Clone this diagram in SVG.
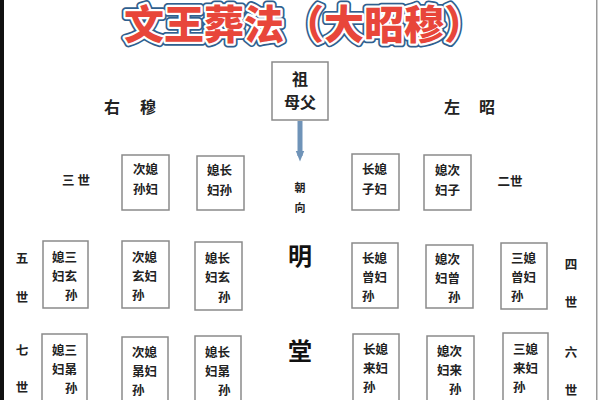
<svg xmlns="http://www.w3.org/2000/svg" width="600" height="400" viewBox="0 0 600 400">
<defs>
<style>
.t{font-family:"Noto Sans CJK SC","Noto Sans",sans-serif;fill:#222;}
.b{fill:#fff;stroke:#8a8a8a;stroke-width:1.5;}
.bx{font-family:"Noto Sans CJK SC",sans-serif;font-size:12.5px;font-weight:bold;fill:#222;}
.lab{font-family:"Noto Sans CJK SC",sans-serif;font-size:12.5px;font-weight:bold;fill:#222;text-anchor:middle;}
.big{font-family:"Noto Sans CJK SC",sans-serif;font-size:24px;font-weight:bold;fill:#111;text-anchor:middle;}
.side{font-family:"Noto Sans CJK SC",sans-serif;font-size:16px;font-weight:bold;fill:#222;text-anchor:middle;}
.title{font-family:"Noto Sans CJK SC",sans-serif;font-size:40px;font-weight:900;text-anchor:middle;}
</style>
<marker id="ah" viewBox="0 0 10 10" refX="5" refY="5" markerWidth="2.2" markerHeight="2.2" orient="auto">
<path d="M0,1 L10,5 L0,9 z" fill="#6f93b8"/>
</marker>
</defs>
<rect x="0" y="0" width="600" height="400" fill="#fff"/>
<rect x="0" y="0" width="4" height="400" fill="#111"/>
<rect x="596" y="0" width="1.5" height="400" fill="#999"/>

<g id="title">
<text class="title" x="304" y="39" fill="none" stroke="#2f5f8f" stroke-width="8" stroke-linejoin="round">文王葬法（大昭穆）</text>
<text class="title" x="304" y="39" fill="none" stroke="#fff" stroke-width="4.5" stroke-linejoin="round">文王葬法（大昭穆）</text>
<text class="title" x="304" y="39" fill="#e8463a">文王葬法（大昭穆）</text>
</g>

<g id="labels">
<text class="side" x="112" y="113">右</text>
<text class="side" x="148" y="113">穆</text>
<text class="side" x="452" y="113">左</text>
<text class="side" x="487" y="113">昭</text>
<text class="lab" x="76" y="185">三 世</text>
<text class="lab" x="510" y="186">二世</text>
<text class="lab" x="22" y="263">五</text>
<text class="lab" x="22" y="302">世</text>
<text class="lab" x="571" y="269">四</text>
<text class="lab" x="571" y="307">世</text>
<text class="lab" x="22" y="355">七</text>
<text class="lab" x="22" y="392">世</text>
<text class="lab" x="571" y="357">六</text>
<text class="lab" x="571" y="395">世</text>
<text class="lab" x="300" y="192" style="font-size:11px">朝</text>
<text class="lab" x="300" y="212" style="font-size:11px">向</text>
<text class="big" x="300" y="265">明</text>
<text class="big" x="300" y="360">堂</text>
</g>

<g id="zu">
<rect class="b" x="272" y="62" width="56" height="58"/>
<text class="side" x="300" y="85">祖</text>
<text class="side" x="300" y="108">母父</text>
</g>

<g id="connectors">
<line x1="300" y1="121" x2="300" y2="156" stroke="#6f93b8" stroke-width="5" marker-end="url(#ah)"/>
</g>

<g id="r1a"><rect class="b" x="122" y="155" width="47" height="55"/>
<text class="bx" x="133" y="174">次媳</text><text class="bx" x="133" y="194">孙妇</text></g>
<g id="r1b"><rect class="b" x="197" y="156" width="47" height="54"/>
<text class="bx" x="207" y="175">媳长</text><text class="bx" x="207" y="195">妇孙</text></g>
<g id="r1c"><rect class="b" x="352" y="154" width="47" height="56"/>
<text class="bx" x="362" y="174">长媳</text><text class="bx" x="362" y="194">子妇</text></g>
<g id="r1d"><rect class="b" x="424" y="155" width="47" height="55"/>
<text class="bx" x="435" y="175">媳次</text><text class="bx" x="435" y="195">妇子</text></g>

<g id="r2a"><rect class="b" x="43" y="241" width="45" height="67"/>
<text class="bx" x="52" y="262">媳三</text><text class="bx" x="52" y="281">妇玄</text><text class="bx" x="65" y="300">孙</text></g>
<g id="r2b"><rect class="b" x="122" y="241" width="47" height="67"/>
<text class="bx" x="132" y="262">次媳</text><text class="bx" x="132" y="281">玄妇</text><text class="bx" x="132" y="300">孙</text></g>
<g id="r2c"><rect class="b" x="195" y="242" width="47" height="68"/>
<text class="bx" x="205" y="263">媳长</text><text class="bx" x="205" y="282">妇玄</text><text class="bx" x="218" y="302">孙</text></g>
<g id="r2d"><rect class="b" x="352" y="243" width="46" height="65"/>
<text class="bx" x="362" y="263">长媳</text><text class="bx" x="362" y="282">曾妇</text><text class="bx" x="362" y="301">孙</text></g>
<g id="r2e"><rect class="b" x="426" y="245" width="47" height="63"/>
<text class="bx" x="435" y="264">媳次</text><text class="bx" x="435" y="283">妇曾</text><text class="bx" x="448" y="302">孙</text></g>
<g id="r2f"><rect class="b" x="501" y="243" width="46" height="66"/>
<text class="bx" x="511" y="263">三媳</text><text class="bx" x="511" y="282">曾妇</text><text class="bx" x="511" y="301">孙</text></g>

<g id="r3a"><rect class="b" x="42" y="334" width="45" height="80"/>
<text class="bx" x="52" y="355">媳三</text><text class="bx" x="52" y="374">妇晜</text><text class="bx" x="65" y="393">孙</text></g>
<g id="r3b"><rect class="b" x="122" y="337" width="46" height="80"/>
<text class="bx" x="132" y="357">次媳</text><text class="bx" x="132" y="376">晜妇</text><text class="bx" x="132" y="395">孙</text></g>
<g id="r3c"><rect class="b" x="195" y="336" width="46" height="80"/>
<text class="bx" x="205" y="357">媳长</text><text class="bx" x="205" y="376">妇晜</text><text class="bx" x="218" y="395">孙</text></g>
<g id="r3d"><rect class="b" x="353" y="334" width="46" height="80"/>
<text class="bx" x="363" y="354">长媳</text><text class="bx" x="363" y="373">来妇</text><text class="bx" x="363" y="392">孙</text></g>
<g id="r3e"><rect class="b" x="427" y="336" width="47" height="80"/>
<text class="bx" x="437" y="356">媳次</text><text class="bx" x="437" y="375">妇来</text><text class="bx" x="449" y="394">孙</text></g>
<g id="r3f"><rect class="b" x="503" y="333" width="45" height="80"/>
<text class="bx" x="513" y="354">三媳</text><text class="bx" x="513" y="373">来妇</text><text class="bx" x="513" y="392">孙</text></g>
</svg>
